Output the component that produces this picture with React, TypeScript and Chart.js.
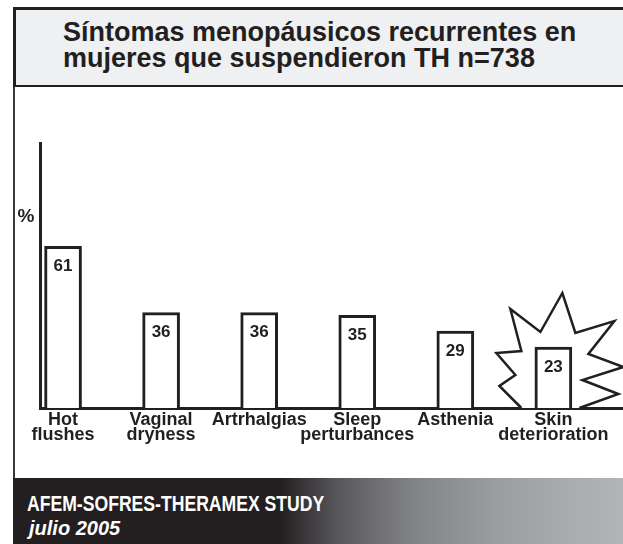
import React, { useEffect, useRef } from "react";
import { Chart, registerables } from "chart.js";

Chart.register(...registerables);

const TITLE_LINES = ["Síntomas menopáusicos recurrentes en", "mujeres que suspendieron TH n=738"];
const CATEGORIES: string[][] = [
  ["Hot", "flushes"],
  ["Vaginal", "dryness"],
  ["Artrhalgias"],
  ["Sleep", "perturbances"],
  ["Asthenia"],
  ["Skin", "deterioration"],
];
const VALUES = [61, 36, 36, 35, 29, 23];
const HIGHLIGHT_INDEX = 5;
const Y_LABEL = "%";
const FOOTER_LINES = ["AFEM-SOFRES-THERAMEX STUDY", "julio 2005"];

const INK = "#231f20";
const FONT = "'Liberation Sans', Arial, sans-serif";

// starburst outline offsets (px) around the highlighted bar: [dx from bar centre, dy from baseline]
const BURST: [number, number][] = [
  [-32, 0], [-54, -22], [-38, -33], [-57, -55], [-32, -57], [-43, -99], [-13, -76],
  [9, -115], [22, -75], [61, -87], [35, -54], [70, -41], [29, -28], [65, -14], [26, 0],
];

const decorPlugin = {
  id: "decor",
  beforeDatasetsDraw(chart: any) {
    const meta = chart.getDatasetMeta(0);
    const bar = meta.data[HIGHLIGHT_INDEX];
    if (!bar) return;
    const base = chart.scales.y.getPixelForValue(0);
    const ctx = chart.ctx;
    ctx.save();
    ctx.beginPath();
    BURST.forEach(([dx, dy], i) => {
      const px = bar.x + dx;
      const py = base + dy;
      if (i === 0) ctx.moveTo(px, py);
      else ctx.lineTo(px, py);
    });
    ctx.fillStyle = "#ffffff";
    ctx.fill();
    ctx.lineWidth = 2.5;
    ctx.lineJoin = "miter";
    ctx.strokeStyle = INK;
    ctx.stroke();
    ctx.restore();
  },
  afterDatasetsDraw(chart: any) {
    const meta = chart.getDatasetMeta(0);
    const ctx = chart.ctx;
    ctx.save();
    ctx.fillStyle = INK;
    ctx.font = `bold 17px ${FONT}`;
    ctx.textAlign = "center";
    ctx.textBaseline = "middle";
    meta.data.forEach((bar: any, i: number) => {
      ctx.fillText(String(VALUES[i]), bar.x, bar.y + 20);
    });
    const area = chart.chartArea;
    ctx.font = `bold 19px ${FONT}`;
    ctx.fillText(Y_LABEL, area.left - 14, area.top + 74);
    ctx.restore();
  },
};

export default function App() {
  const canvasRef = useRef<HTMLCanvasElement | null>(null);

  useEffect(() => {
    if (!canvasRef.current) return;
    const chart = new Chart(canvasRef.current, {
      type: "bar",
      data: {
        datasets: [
          {
            data: VALUES.map((v, i) => ({ x: i, y: v })),
            backgroundColor: "#ffffff",
            borderColor: INK,
            borderWidth: 3,
            barThickness: 37,
          },
        ],
      },
      options: {
        animation: false,
        responsive: false,
        devicePixelRatio: 1,
        layout: { padding: { left: 40, top: 55, right: 0, bottom: 0 } },
        plugins: { legend: { display: false }, tooltip: { enabled: false }, title: { display: false } },
        scales: {
          x: {
            type: "linear",
            offset: false,
            min: -0.235,
            max: 5.71,
            grid: { display: false, drawTicks: false, offset: false },
            border: { display: true, color: INK, width: 3 },
            afterBuildTicks: (scale: any) => {
              scale.ticks = CATEGORIES.map((_, i) => ({ value: i }));
            },
            afterFit: (scale: any) => {
              scale.height = 70;
            },
            ticks: {
              autoSkip: false,
              maxRotation: 0,
              minRotation: 0,
              padding: 4,
              color: INK,
              font: { family: FONT, size: 18, weight: "bold", lineHeight: 0.84 },
              callback: (v: any) => CATEGORIES[v] ?? "",
            },
          },
          y: {
            min: 0,
            max: 100,
            grid: { display: false, drawTicks: false },
            border: { display: true, color: INK, width: 3 },
            ticks: { display: false },
            afterFit: (scale: any) => {
              scale.width = 0;
            },
          },
        },
      },
      plugins: [decorPlugin],
    } as any);
    return () => chart.destroy();
  }, []);

  return (
    <div style={{ position: "absolute", left: 0, top: 0, width: 623, height: 544, background: "#fff", overflow: "hidden" }}>
      <div
        style={{
          position: "absolute",
          left: 13,
          top: 7,
          width: 610,
          height: 80,
          boxSizing: "border-box",
          background: "#eef0f2",
          borderTop: `3px solid ${INK}`,
          borderLeft: `3px solid ${INK}`,
          borderBottom: `2.5px solid ${INK}`,
        }}
      />
      <div
        style={{
          position: "absolute",
          left: 13,
          top: 87,
          width: 2,
          height: 391,
          background: "#3a3839",
        }}
      />
      <div
        style={{
          position: "absolute",
          left: 63,
          top: 19,
          fontFamily: FONT,
          fontWeight: "bold",
          fontSize: 27,
          lineHeight: "26px",
          color: INK,
          whiteSpace: "nowrap",
        }}
      >
        {TITLE_LINES.map((l) => (
          <div key={l}>{l}</div>
        ))}
      </div>
      <canvas
        ref={canvasRef}
        width={623}
        height={390}
        style={{ position: "absolute", left: 0, top: 88, width: 623, height: 390 }}
      />
      <div
        style={{
          position: "absolute",
          left: 13,
          top: 478,
          width: 610,
          height: 66,
          background:
            "linear-gradient(to right, #231f20 0px, #231f20 268px, #58585a 325px, #808184 395px, #9a9c9f 480px, #b3b5b8 610px)",
        }}
      />
      <div
        style={{
          position: "absolute",
          left: 27,
          top: 493,
          fontFamily: FONT,
          fontWeight: "bold",
          fontSize: 22,
          lineHeight: "22px",
          color: "#fff",
          whiteSpace: "nowrap",
          transform: "scaleX(0.8)",
          transformOrigin: "0 0",
        }}
      >
        {FOOTER_LINES[0]}
      </div>
      <div
        style={{
          position: "absolute",
          left: 29,
          top: 518,
          fontFamily: FONT,
          fontStyle: "italic",
          fontWeight: "bold",
          fontSize: 20,
          lineHeight: "20px",
          color: "#fff",
          whiteSpace: "nowrap",
        }}
      >
        {FOOTER_LINES[1]}
      </div>
    </div>
  );
}
